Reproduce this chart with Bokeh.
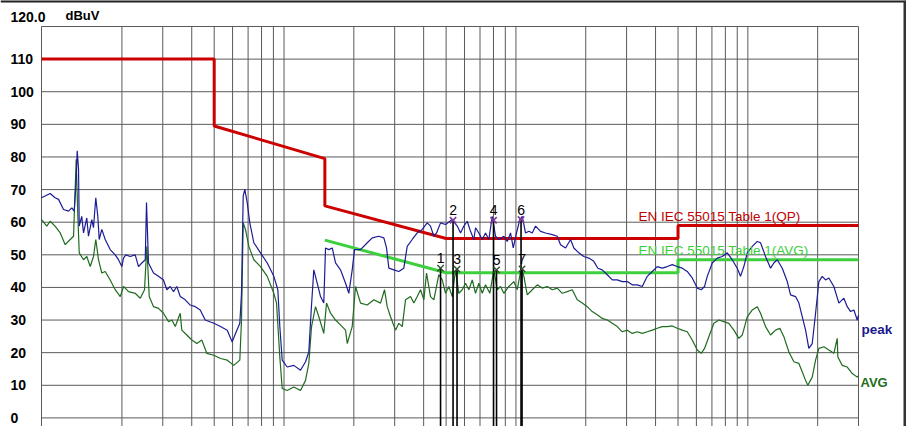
import math
from bokeh.plotting import figure
from bokeh.models import Range1d, ColumnDataSource, Span
from bokeh.core.properties import value
from bokeh.embed import file_html
from bokeh.resources import INLINE

# ---------------- data (frequency in MHz, level in dBuV) ----------------
peak_freq = [0.009, 0.00981, 0.0103, 0.01066, 0.0112, 0.01177, 0.01216, 0.01245, 0.01268, 0.01283,
             0.0130, 0.01309, 0.01342, 0.01366, 0.01411, 0.01435, 0.01483, 0.01508, 0.01543, 0.01574,
             0.01596, 0.01638, 0.01694, 0.0178, 0.01871, 0.01933, 0.01998, 0.02032, 0.02079, 0.02172,
             0.02282, 0.02358, 0.02436, 0.02521, 0.02553, 0.02604, 0.02737, 0.02876, 0.03021, 0.03123,
             0.0323, 0.03338, 0.03449, 0.03568, 0.0375, 0.0394, 0.04142, 0.04352, 0.04573, 0.04981,
             0.05323, 0.0569, 0.05978, 0.06178, 0.06447, 0.06556, 0.06668, 0.06776, 0.06938, 0.0712,
             0.0741, 0.07919, 0.08465, 0.09038, 0.09403, 0.09591, 0.09822, 0.1032, 0.1102, 0.1178,
             0.1238, 0.1279, 0.131, 0.1344, 0.139, 0.1437, 0.1484, 0.151, 0.156, 0.1614,
             0.1668, 0.1752, 0.1842, 0.1903, 0.1968, 0.2014, 0.2138, 0.2285, 0.2401, 0.2563,
             0.2694, 0.2767, 0.2831, 0.2975, 0.3126, 0.3285, 0.3398, 0.3571, 0.3753, 0.3944,
             0.4145, 0.4282, 0.4426, 0.4546, 0.4731, 0.4971, 0.5313, 0.5584, 0.577, 0.5961,
             0.6166, 0.6371, 0.6584, 0.6696, 0.6918, 0.7156, 0.7394, 0.764, 0.7904, 0.8166,
             0.844, 0.8868, 0.9173, 0.9478, 0.9736, 1.006, 1.039, 1.065, 1.100, 1.137,
             1.176, 1.215, 1.277, 1.342, 1.434, 1.507, 1.557, 1.637, 1.72, 1.777,
             1.867, 1.962, 2.062, 2.167, 2.255, 2.356, 2.476, 2.602, 2.734, 2.874,
             3.02, 3.173, 3.335, 3.505, 3.683, 3.871, 4.068, 4.275, 4.492, 4.721,
             4.961, 5.213, 5.479, 5.757, 6.051, 6.295, 6.506, 6.682, 7.023, 7.379,
             7.754, 8.149, 8.563, 8.999, 9.299, 9.612, 9.94, 10.45, 10.98, 11.34,
             11.92, 12.53, 12.94, 13.39, 14.07, 14.79, 15.28, 16.06, 16.6, 17.17,
             17.74, 18.32, 18.95, 19.59, 20.24, 20.93, 21.63, 22.35, 23.49, 24.69,
             25.94, 26.83, 27.73, 28.65, 29.63, 30.0]
peak_dbuv = [67.5, 68.8, 67.5, 67.0, 63.9, 63.4, 64.4, 63.4, 72.0, 81.9,
             76.2, 58.8, 61.8, 56.7, 61.3, 55.7, 60.8, 58.3, 67.5, 61.8,
             54.7, 57.8, 54.7, 51.6, 50.0, 48.5, 46.4, 49.0, 50.0, 49.5,
             50.0, 46.4, 47.5, 48.5, 66.0, 47.5, 44.4, 43.4, 42.3, 39.3,
             40.3, 38.7, 40.3, 37.2, 36.2, 34.6, 34.1, 33.1, 30.0, 29.0,
             28.0, 26.9, 23.3, 25.9, 29.0, 38.2, 68.0, 70.1, 66.0, 59.8,
             53.7, 50.6, 47.5, 43.4, 39.3, 28.0, 17.7, 15.6, 16.1, 14.6,
             17.2, 20.2, 33.1, 45.4, 41.3, 37.2, 35.2, 52.1, 51.6, 52.1,
             47.5, 45.4, 41.3, 38.2, 45.4, 51.6, 51.6, 53.7, 55.2, 55.7,
             55.2, 52.1, 45.9, 45.4, 44.9, 45.9, 52.6, 54.7, 56.7, 57.8,
             59.8, 58.8, 55.7, 56.7, 59.8, 59.3, 60.8, 58.8, 56.7, 58.8,
             60.3, 57.2, 54.7, 58.3, 56.7, 54.7, 56.7, 54.7, 61.8, 55.7,
             54.7, 55.7, 54.1, 56.7, 52.1, 56.7, 60.8, 61.8, 56.7, 57.2,
             56.7, 58.8, 57.2, 56.7, 56.2, 55.7, 53.1, 52.1, 54.7, 52.1,
             50.6, 49.5, 49.0, 48.0, 45.9, 45.4, 43.9, 42.3, 42.3, 41.8,
             41.8, 40.8, 40.8, 40.3, 43.4, 44.9, 46.4, 45.9, 46.4, 47.0,
             46.4, 45.9, 44.9, 42.9, 39.8, 39.3, 40.3, 43.4, 47.5, 49.0,
             49.5, 50.6, 48.5, 45.9, 43.4, 46.4, 50.6, 52.6, 54.1, 53.7,
             49.5, 45.9, 47.5, 48.5, 45.9, 41.8, 37.7, 37.2, 35.2, 31.0,
             26.9, 21.3, 22.8, 32.1, 41.8, 43.4, 42.3, 42.9, 40.3, 35.2,
             36.7, 34.1, 32.6, 33.1, 30.0, 31.5]

avg_freq = [0.009, 0.009487, 0.00981, 0.0103, 0.01084, 0.01139, 0.01197, 0.01237, 0.0127, 0.01291,
            0.01309, 0.01366, 0.01411, 0.0146, 0.01508, 0.01543, 0.01585, 0.01638, 0.01694, 0.0178,
            0.01871, 0.01967, 0.02032, 0.02136, 0.02282, 0.02399, 0.02503, 0.02561, 0.02623, 0.02737,
            0.02876, 0.03021, 0.03177, 0.03283, 0.03396, 0.03568, 0.03624, 0.0381, 0.04005, 0.04207,
            0.0442, 0.04645, 0.04981, 0.05323, 0.0569, 0.06074, 0.06447, 0.06556, 0.06668, 0.06823,
            0.07051, 0.0741, 0.07919, 0.08465, 0.09038, 0.09284, 0.09591, 0.09822, 0.1032, 0.1102,
            0.1178, 0.1238, 0.1279, 0.1314, 0.1367, 0.1413, 0.1484, 0.1525, 0.1587, 0.1668,
            0.1752, 0.1842, 0.1873, 0.1968, 0.2034, 0.2138, 0.2285, 0.2439, 0.2607, 0.2712,
            0.2786, 0.2879, 0.3025, 0.3126, 0.3234, 0.3341, 0.3512, 0.3628, 0.3753, 0.3878,
            0.4008, 0.4117, 0.4282, 0.4426, 0.4651, 0.4811, 0.4971, 0.5137, 0.5313, 0.5489,
            0.5673, 0.5867, 0.6063, 0.6265, 0.6481, 0.6696, 0.6918, 0.7156, 0.7394, 0.7718,
            0.803, 0.8306, 0.8582, 0.8868, 0.932, 0.9793, 1.013, 1.054, 1.082, 1.119,
            1.176, 1.236, 1.298, 1.365, 1.434, 1.507, 1.584, 1.664, 1.749, 1.838,
            1.932, 2.03, 2.133, 2.242, 2.356, 2.476, 2.602, 2.734, 2.874, 3.02,
            3.173, 3.335, 3.505, 3.683, 3.871, 4.068, 4.275, 4.492, 4.721, 4.961,
            5.213, 5.479, 5.757, 6.051, 6.295, 6.506, 6.789, 7.136, 7.499, 7.878,
            8.279, 8.701, 9.144, 9.461, 9.94, 10.45, 10.98, 11.34, 11.92, 12.53,
            13.17, 13.74, 14.3, 15.03, 15.79, 16.6, 17.17, 17.74, 18.14, 18.95,
            19.59, 20.24, 21.27, 22.35, 23.49, 24.29, 24.44, 25.53, 26.83, 28.2,
            29.63, 30.0]
avg_dbuv = [60.8, 58.8, 60.3, 58.8, 56.7, 53.1, 54.7, 55.7, 79.3, 62.0,
            50.6, 48.5, 49.5, 46.4, 49.5, 54.7, 48.5, 44.4, 44.9, 42.3,
            39.3, 37.2, 40.3, 38.7, 38.2, 36.7, 39.3, 52.6, 37.2, 34.1,
            33.6, 32.1, 29.5, 30.0, 28.0, 32.1, 26.9, 25.4, 23.9, 22.8,
            23.9, 19.8, 19.2, 18.2, 17.7, 16.1, 17.7, 30.0, 59.8, 57.7,
            52.6, 48.5, 46.4, 43.4, 38.2, 35.2, 18.7, 9.0, 8.4, 9.5,
            8.4, 11.5, 16.7, 28.0, 34.1, 31.0, 25.9, 35.2, 32.1, 30.0,
            28.5, 26.9, 22.8, 28.0, 40.3, 35.2, 34.6, 36.2, 35.2, 39.3,
            34.1, 31.0, 26.9, 29.0, 28.0, 36.2, 37.2, 35.2, 37.2, 39.3,
            36.2, 44.4, 37.2, 36.2, 43.9, 42.3, 38.2, 40.3, 37.2, 45.4,
            38.2, 39.3, 41.3, 39.3, 42.3, 38.2, 41.3, 38.2, 40.8, 38.2,
            45.4, 39.3, 40.3, 38.2, 40.3, 41.8, 39.3, 45.9, 43.4, 37.7,
            39.3, 40.8, 39.8, 40.3, 39.3, 39.8, 38.2, 38.7, 39.3, 36.2,
            35.2, 34.1, 32.6, 31.6, 30.5, 30.0, 29.0, 28.0, 26.4, 26.9,
            25.9, 26.4, 25.9, 26.4, 26.9, 27.5, 28.0, 28.0, 28.2, 27.5,
            26.9, 26.4, 23.9, 20.8, 19.8, 21.3, 24.9, 29.0, 30.0, 29.5,
            29.0, 26.9, 24.4, 25.4, 31.0, 33.1, 34.1, 32.1, 28.0, 25.4,
            26.9, 27.5, 24.9, 20.2, 17.2, 16.7, 14.1, 11.5, 10.0, 12.5,
            17.7, 21.3, 21.8, 20.8, 19.8, 24.4, 18.7, 16.1, 15.6, 13.6,
            12.5, 13.0]

qp_limit_freq = [0.009, 0.05, 0.05, 0.15, 0.15, 0.5, 5.0, 5.0, 30.0]
qp_limit_dbuv = [110.0, 110.0, 89.5, 79.5, 65.0, 55.0, 55.0, 59.0, 59.0]
avg_limit_freq = [0.15, 0.5, 5.0, 5.0, 30.0]
avg_limit_dbuv = [54.5, 44.5, 44.5, 48.5, 48.5]

peak_marker_ids = ["2", "4", "6"]
peak_marker_freq = [0.5356, 0.8006, 1.052]
peak_marker_dbuv = [60.6, 60.6, 60.8]
avg_marker_ids = ["1", "3", "5", "7"]
avg_marker_freq = [0.4731, 0.5572, 0.8247, 1.0625]
avg_marker_dbuv = [45.9, 45.6, 45.4, 45.7]

y_tick_values = [0, 10, 20, 30, 40, 50, 60, 70, 80, 90, 100, 110]
y_top_label = "120.0"
y_unit = "dBuV"
x_grid_freqs = [0.02, 0.03, 0.04, 0.05, 0.06, 0.07, 0.08, 0.09, 0.1,
                0.2, 0.3, 0.4, 0.5, 0.6, 0.7, 0.8, 0.9, 1.0,
                2.0, 3.0, 4.0, 5.0, 6.0, 7.0, 8.0, 9.0, 10.0, 20.0]
qp_limit_name = "EN IEC 55015 Table 1(QP)"
avg_limit_name = "EN IEC 55015 Table 1(AVG)"
peak_name = "peak"
avg_name = "AVG"

X_MIN, X_MAX = 0.009, 30.0
Y_MIN, Y_MAX = 0.0, 120.0

# ---------------- layout (pixels on the 906x426 canvas) ----------------
W, H = 906, 426
FL, FR, FT, F0 = 41.0, 858.0, 26.0, 417.4       # chart left/right/top and 0 dB line
DEC = (FR - FL) / math.log10(X_MAX / X_MIN)      # px per decade
PPD = (F0 - FT) / (Y_MAX - Y_MIN)                # px per dB


def fx(px):
    return X_MIN * 10 ** ((px - FL) / DEC)


def fy(py):
    return (F0 - py) / PPD


p = figure(width=W, height=H, x_axis_type="log",
           x_range=Range1d(fx(0), fx(W)), y_range=Range1d(fy(H), fy(0)),
           output_backend="svg", toolbar_location=None,
           min_border=0, min_border_left=0, min_border_right=0,
           min_border_top=0, min_border_bottom=0)
p.xaxis.visible = False
p.yaxis.visible = False
p.xgrid.visible = False
p.ygrid.visible = False
p.outline_line_color = None
p.background_fill_color = "white"
p.border_fill_color = "white"

GRID = "#5a5a5a"
bottom = fy(H)
# vertical grid lines + chart borders
vx = [X_MIN] + x_grid_freqs + [X_MAX]
p.segment(x0=vx, y0=[bottom] * len(vx), x1=vx, y1=[Y_MAX] * len(vx),
          line_color=GRID, line_width=1)
# horizontal grid lines + top border
hy = y_tick_values + [Y_MAX]
p.segment(x0=[X_MIN] * len(hy), y0=hy, x1=[X_MAX] * len(hy), y1=hy,
          line_color=GRID, line_width=1)

# limit lines
p.line(qp_limit_freq, qp_limit_dbuv, line_color="#cc0000", line_width=3)
p.line(avg_limit_freq, avg_limit_dbuv, line_color="#3dcf3d", line_width=3)

# traces
p.line(avg_freq, avg_dbuv, line_color="#1f6b1f", line_width=1.2)
p.line(peak_freq, peak_dbuv, line_color="#1c1c96", line_width=1.2)

# markers
all_mk_f = peak_marker_freq + avg_marker_freq
all_mk_db = peak_marker_dbuv + avg_marker_dbuv
p.segment(x0=all_mk_f, y0=all_mk_db, x1=all_mk_f, y1=[bottom] * len(all_mk_f),
          line_color="black", line_width=1.6)
p.scatter(peak_marker_freq, peak_marker_dbuv, marker="x", size=9,
          line_color="#7a3a9a", line_width=1.6)
p.scatter(avg_marker_freq, avg_marker_dbuv, marker="x", size=9,
          line_color="#2d4d2d", line_width=1.4)
mk_src = ColumnDataSource(dict(f=all_mk_f, db=all_mk_db,
                               t=peak_marker_ids + avg_marker_ids))
p.text(x="f", y="db", text="t", source=mk_src, y_offset=-5,
       text_align="center", text_baseline="bottom",
       text_font=value("Liberation Sans"), text_font_size=value("14px"),
       text_color="black")

FONT = value("Liberation Sans")
# y tick labels (left aligned)
p.text(x=[fx(10)] * len(y_tick_values), y=y_tick_values,
       text=[str(v) for v in y_tick_values], text_align="left", text_baseline="middle",
       text_font=FONT, text_font_size=value("14px"), text_font_style="bold",
       text_color="black")
p.text(x=[fx(10)], y=[fy(16)], text=[y_top_label], text_align="left",
       text_baseline="middle", text_font=FONT, text_font_size=value("14px"),
       text_font_style="bold", text_color="black")
p.text(x=[fx(65)], y=[fy(15)], text=[y_unit], text_align="left",
       text_baseline="middle", text_font=FONT, text_font_size=value("13px"),
       text_font_style="bold", text_color="black")

# limit names
p.text(x=[fx(638)], y=[fy(216)], text=[qp_limit_name], text_align="left",
       text_baseline="middle", text_font=FONT, text_font_size=value("13.5px"),
       text_color="#c00000")
p.text(x=[fx(638)], y=[fy(250)], text=[avg_limit_name], text_align="left",
       text_baseline="middle", text_font=FONT, text_font_size=value("13.5px"),
       text_color="#3dcf3d")

# trace names
p.text(x=[fx(861)], y=[fy(329)], text=[peak_name], text_align="left",
       text_baseline="middle", text_font=FONT, text_font_size=value("13.5px"),
       text_font_style="bold", text_color="#1a1a8c")
p.text(x=[fx(860)], y=[fy(382)], text=[avg_name], text_align="left",
       text_baseline="middle", text_font=FONT, text_font_size=value("13px"),
       text_font_style="bold", text_color="#1e6e1e")

# window edge (dark border at top and right of the reference picture)
p.add_layout(Span(location=fy(0), dimension="width", line_color="#222222", line_width=4))
p.add_layout(Span(location=fx(W), dimension="height", line_color="#333333", line_width=6))

open("out.html", "w").write(file_html(p, INLINE))
